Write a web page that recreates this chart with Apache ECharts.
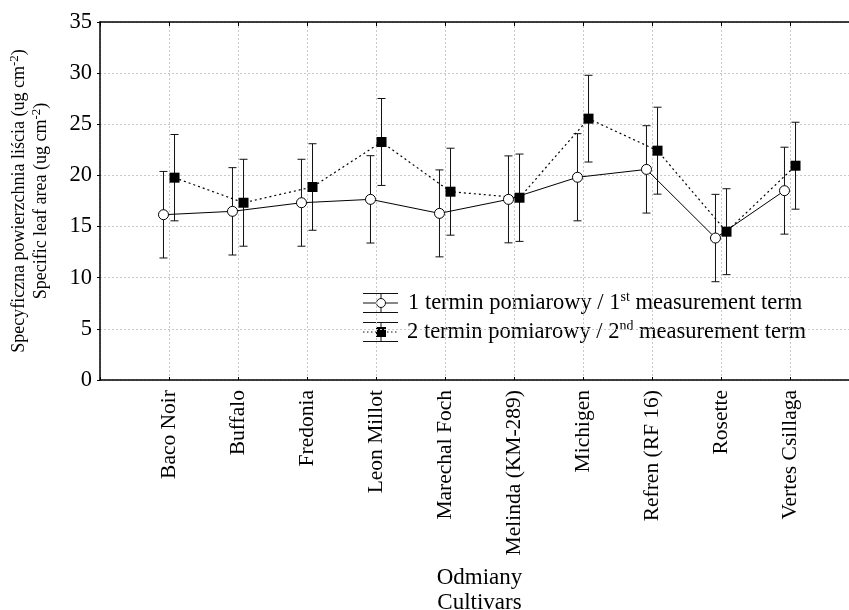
<!DOCTYPE html>
<html>
<head>
<meta charset="utf-8">
<script src="https://cdn.jsdelivr.net/npm/echarts@6/dist/echarts.min.js"></script>
<style>
html,body{margin:0;padding:0;background:#fff;}
#chart{width:849px;height:610px;}
</style>
</head>
<body>
<div id="chart"></div>
<script>
var categories = ['Baco Noir','Buffalo','Fredonia','Leon Millot','Marechal Foch','Melinda (KM-289)','Michigen','Refren (RF 16)','Rosette','Vertes Csillaga'];
var mean1 = [16.16,16.49,17.33,17.66,16.29,17.66,19.82,20.59,13.88,18.51];
var err1  = [4.23,4.27,4.25,4.27,4.25,4.25,4.26,4.27,4.27,4.25];
var mean2 = [19.78,17.33,18.87,23.27,18.41,17.82,25.55,22.42,14.50,20.95];
var err2  = [4.22,4.25,4.23,4.25,4.25,4.27,4.24,4.25,4.20,4.25];
var yTicks = [0,5,10,15,20,25,30,35];
var seriesNames = ['1 termin pomiarowy / 1st measurement term','2 termin pomiarowy / 2nd measurement term'];

var OFF = 0.08;
var FONT = "'Liberation Serif','Times New Roman',serif";

function pts(mean, off){ return mean.map(function(v,i){ return [i+off, v]; }); }
function errData(mean, err, off){ return mean.map(function(v,i){ return [i+off, v-err[i], v+err[i]]; }); }

function errRender(params, api){
  var x = api.value(0), lo = api.value(1), hi = api.value(2);
  var pLo = api.coord([x, lo]), pHi = api.coord([x, hi]);
  var cw = 4;
  var st = {stroke:'#111', lineWidth:1};
  return {type:'group', children:[
    {type:'line', shape:{x1:pLo[0],y1:pLo[1],x2:pHi[0],y2:pHi[1]}, style:st},
    {type:'line', shape:{x1:pLo[0]-cw,y1:pLo[1],x2:pLo[0]+cw,y2:pLo[1]}, style:st},
    {type:'line', shape:{x1:pHi[0]-cw,y1:pHi[1],x2:pHi[0]+cw,y2:pHi[1]}, style:st}
  ]};
}

var chart = echarts.init(document.getElementById('chart'));
var gridLine = {show:true, lineStyle:{color:'#c8c8c8', type:[2,2], width:1}};

function legendRow(y, idx){
  var st = {stroke:'#111', lineWidth:1};
  var ch = [
    {type:'line', shape:{x1:363,y1:y-9.5,x2:398,y2:y-9.5}, style:st},
    {type:'line', shape:{x1:363,y1:y+9.5,x2:398,y2:y+9.5}, style:st},
    {type:'line', shape:{x1:381,y1:y-9.5,x2:381,y2:y+9.5}, style:st}
  ];
  if(idx===0){
    ch.push({type:'line', shape:{x1:363,y1:y,x2:398,y2:y}, style:st});
    ch.push({type:'circle', shape:{cx:381,cy:y,r:4.5}, style:{fill:'#fff',stroke:'#111',lineWidth:1}});
  } else {
    ch.push({type:'line', shape:{x1:363,y1:y,x2:398,y2:y}, style:{stroke:'#111',lineWidth:1,lineDash:[1.5,2.5]}});
    ch.push({type:'rect', shape:{x:376,y:y-5,width:10,height:10}, style:{fill:'#000'}});
  }
  return ch;
}

var supRich = {sup:{fontSize:13, fontFamily:FONT, color:'#000', verticalAlign:'top', lineHeight:13}};
var legRich = {s:{fontSize:14, fontFamily:FONT, fill:'#000', verticalAlign:'top', lineHeight:14}};

var option = {
  animation:false,
  backgroundColor:'#fff',
  grid:{left:100, top:22, width:759, height:358, containLabel:false, outerBoundsMode:'none'},
  xAxis:[{
    type:'value', min:-1, max:10, interval:1, position:'bottom',
    axisLine:{show:true, onZero:false, lineStyle:{color:'#000', width:1.5}},
    axisTick:{show:true, inside:true, length:3, lineStyle:{color:'#000'}},
    splitLine:gridLine,
    axisLabel:{
      rotate:90, margin:10, fontSize:21.5, fontFamily:FONT, color:'#000',
      formatter:function(v){ var i=Math.round(v); return (i>=0 && i<categories.length)? categories[i] : ''; }
    },
    name:'Odmiany\nCultivars', nameLocation:'middle', nameGap:185,
    nameTextStyle:{fontSize:23, fontFamily:FONT, color:'#000', lineHeight:25}
  },{
    type:'value', min:-1, max:10, interval:1, position:'top',
    axisLine:{show:true, onZero:false, lineStyle:{color:'#000', width:1.5}},
    axisTick:{show:true, inside:true, length:4, lineStyle:{color:'#000'}},
    axisLabel:{show:false}, splitLine:{show:false}
  }],
  yAxis:{
    type:'value', min:0, max:35, interval:5,
    axisLine:{show:true, onZero:false, lineStyle:{color:'#000', width:1.5}},
    axisTick:{show:true, length:3, lineStyle:{color:'#000'}},
    splitLine:gridLine,
    axisLabel:{fontSize:22.5, fontFamily:FONT, color:'#000', margin:8,
      formatter:function(v){ return yTicks.indexOf(v)>=0 ? String(v) : ''; }},
    name:'Specyficzna powierzchnia liścia (ug cm{sup|-2})\nSpecific leaf area (ug cm{sup|-2})',
    nameLocation:'middle', nameRotate:90, nameGap:48,
    nameTextStyle:{fontSize:18, fontFamily:FONT, color:'#000', lineHeight:22, rich:supRich}
  },
  series:[
    {type:'custom', name:'e1', renderItem:errRender, data:errData(mean1,err1,-OFF), z:2, silent:true,
      encode:{x:0, y:[1,2]}},
    {type:'custom', name:'e2', renderItem:errRender, data:errData(mean2,err2,OFF), z:2, silent:true,
      encode:{x:0, y:[1,2]}},
    {type:'line', name:seriesNames[0], data:pts(mean1,-OFF), symbol:'circle', symbolSize:10,
      itemStyle:{color:'#fff', borderColor:'#000', borderWidth:1},
      lineStyle:{color:'#000', width:1}, z:4, silent:true},
    {type:'line', name:seriesNames[1], data:pts(mean2,OFF), symbol:'rect', symbolSize:10,
      itemStyle:{color:'#000'},
      lineStyle:{color:'#000', width:1.2, type:[2,3]}, z:3, silent:true}
  ],
  graphic:[
    {type:'group', children: legendRow(303,0).concat(legendRow(332,1))},
    {type:'text', left:408, top:290, style:{
      text:'1 termin pomiarowy / 1{s|st} measurement term',
      font:'22.5px '+FONT, fill:'#000', lineHeight:26, rich:legRich
    }},
    {type:'text', left:407, top:319, style:{
      text:'2 termin pomiarowy / 2{s|nd} measurement term',
      font:'22.5px '+FONT, fill:'#000', lineHeight:26, rich:legRich
    }}
  ]
};
chart.setOption(option);
</script>
</body>
</html>
